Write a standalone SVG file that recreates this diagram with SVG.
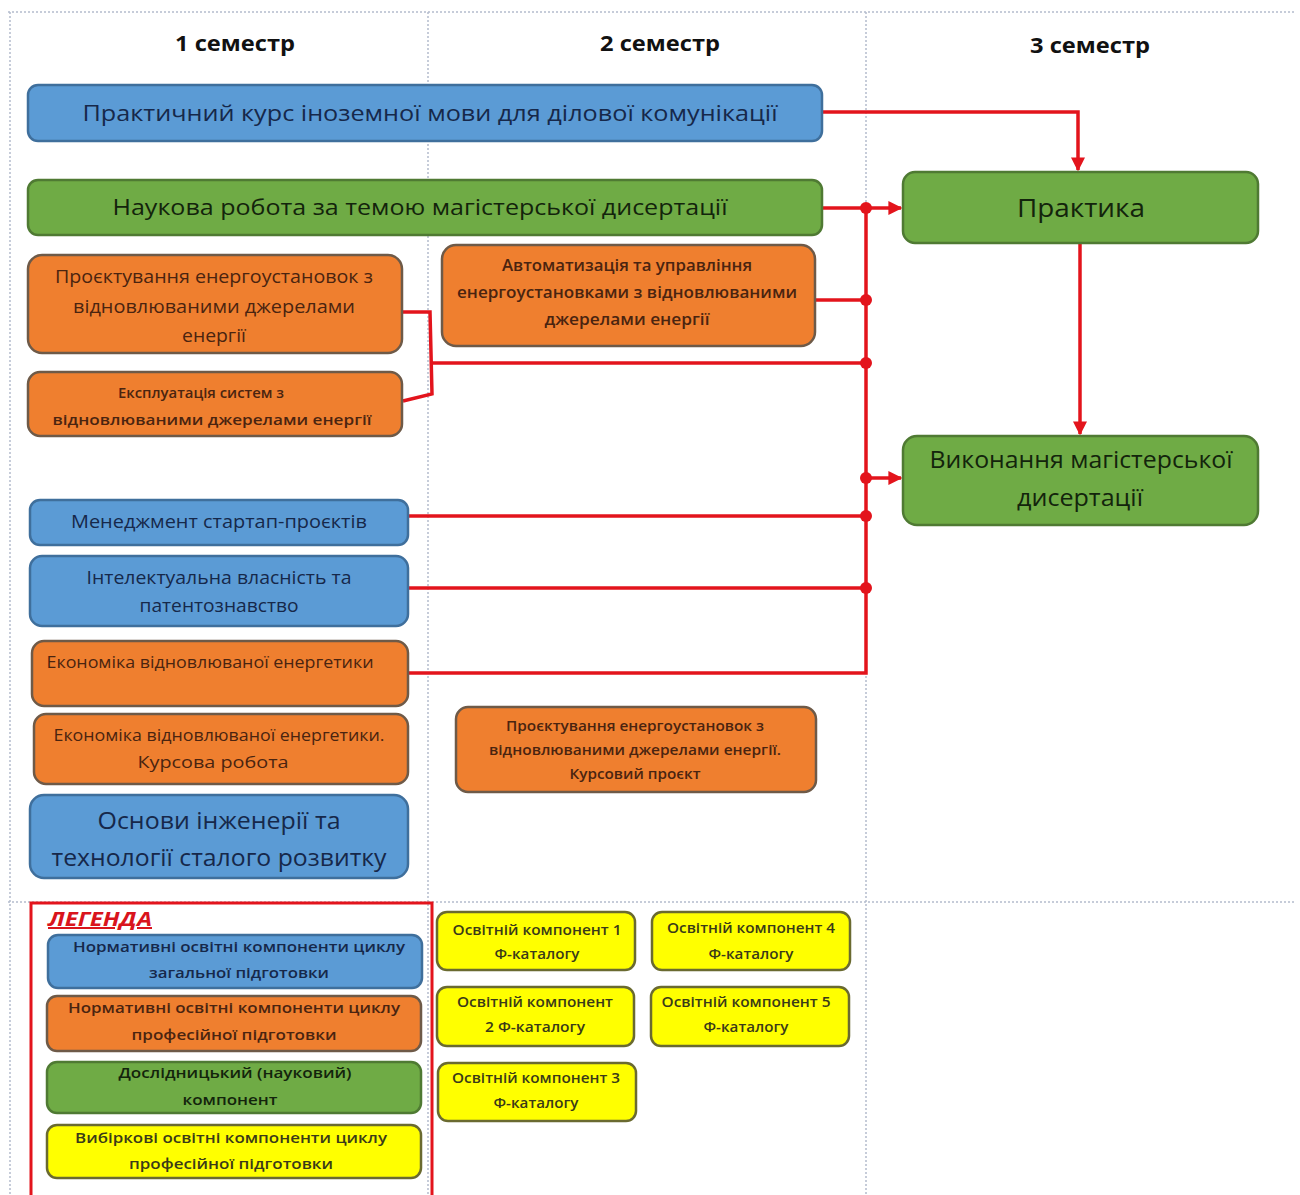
<svg xmlns="http://www.w3.org/2000/svg" width="1300" height="1195" viewBox="0 0 1300 1195">
<style>
text{font-family:"Open Sans","Liberation Sans","Noto Sans",sans-serif;text-anchor:middle}
.sb{font-weight:600}
.grid{stroke:#b4bccd;stroke-width:1.5;stroke-dasharray:2 2;fill:none}
.hdr{font-weight:bold;font-size:22px;fill:#111}
.blue{fill:#5b9bd5;stroke:#3f6f9c;stroke-width:2.5}
.orange{fill:#ef7f2f;stroke:#6e5a48;stroke-width:2.5}
.green{fill:#6fab45;stroke:#4f7a33;stroke-width:2.5}
.yellow{fill:#ffff00;stroke:#6a6a30;stroke-width:2.5}
.tb{fill:#16284a}
.to{fill:#4a2410}
.tg{fill:#13240c}
.ty{fill:#3a3a18}
.con{stroke:#e3141c;stroke-width:3.5;fill:none}
.dot{fill:#e3141c}
</style>
<defs>
<marker id="ah" viewBox="0 0 10 10" refX="9" refY="5" markerWidth="4" markerHeight="4" orient="auto" markerUnits="strokeWidth">
<path d="M0,0 L10,5 L0,10 z" fill="#e3141c"/>
</marker>
</defs>
<rect width="1300" height="1195" fill="#ffffff"/>
<g id="grid">
<line class="grid" x1="8" y1="12" x2="1295" y2="12"/>
<line class="grid" x1="10" y1="12" x2="10" y2="1195"/>
<line class="grid" x1="428" y1="12" x2="428" y2="1195"/>
<line class="grid" x1="866" y1="12" x2="866" y2="1195"/>
<line class="grid" x1="8" y1="902" x2="1295" y2="902"/>
</g>
<g id="headers">
<text class="hdr" x="235" y="51" textLength="120" lengthAdjust="spacingAndGlyphs">1 семестр</text>
<text class="hdr" x="660" y="51" textLength="120" lengthAdjust="spacingAndGlyphs">2 семестр</text>
<text class="hdr" x="1090" y="53" textLength="120" lengthAdjust="spacingAndGlyphs">3 семестр</text>
</g>
<g id="connectors">
<polyline class="con" points="822,112 1078,112 1078,170" marker-end="url(#ah)"/>
<polyline class="con" points="822,208 901,208" marker-end="url(#ah)"/>
<polyline class="con" points="866,208 866,673 408,673"/>
<line class="con" x1="815" y1="300" x2="866" y2="300"/>
<polyline class="con" points="402,312 430,312 432,394 403,401"/>
<line class="con" x1="431" y1="363" x2="866" y2="363"/>
<line class="con" x1="866" y1="478" x2="901" y2="478" marker-end="url(#ah)"/>
<line class="con" x1="408" y1="516" x2="866" y2="516"/>
<line class="con" x1="408" y1="588" x2="866" y2="588"/>
<line class="con" x1="1080" y1="243" x2="1080" y2="434" marker-end="url(#ah)"/>
<circle class="dot" cx="866" cy="208" r="6"/>
<circle class="dot" cx="866" cy="300" r="6"/>
<circle class="dot" cx="866" cy="363" r="6"/>
<circle class="dot" cx="866" cy="478" r="6"/>
<circle class="dot" cx="866" cy="516" r="6"/>
<circle class="dot" cx="866" cy="588" r="6"/>
</g>
<g id="n1">
<rect class="blue" x="28" y="85" width="794" height="56" rx="10"/>
<text class="tb" x="430" y="121" font-size="22" textLength="695" lengthAdjust="spacingAndGlyphs">Практичний курс іноземної мови для ділової комунікації</text>
</g>
<g id="n2">
<rect class="green" x="28" y="180" width="794" height="55" rx="10"/>
<text class="tg" x="420" y="215" font-size="22" textLength="615" lengthAdjust="spacingAndGlyphs">Наукова робота за темою магістерської дисертації</text>
</g>
<g id="n3">
<rect class="orange" x="28" y="255" width="374" height="98" rx="14"/>
<text class="to" font-size="17.5"><tspan x="214" y="283" textLength="318" lengthAdjust="spacingAndGlyphs">Проєктування енергоустановок з</tspan><tspan x="214" y="313" textLength="282" lengthAdjust="spacingAndGlyphs">відновлюваними джерелами</tspan><tspan x="214" y="342" textLength="64" lengthAdjust="spacingAndGlyphs">енергії</tspan></text>
</g>
<g id="n4">
<rect class="orange" x="28" y="372" width="374" height="64" rx="12"/>
<text class="to sb" font-size="15"><tspan x="201" y="398" textLength="166" lengthAdjust="spacingAndGlyphs">Експлуатація систем з</tspan><tspan x="212" y="425" textLength="319" lengthAdjust="spacingAndGlyphs">відновлюваними джерелами енергії</tspan></text>
</g>
<g id="n5">
<rect class="orange" x="442" y="245" width="373" height="101" rx="14"/>
<text class="to sb" font-size="15.5"><tspan x="627" y="271" textLength="250" lengthAdjust="spacingAndGlyphs">Автоматизація та управління</tspan><tspan x="627" y="298" textLength="340" lengthAdjust="spacingAndGlyphs">енергоустановками з відновлюваними</tspan><tspan x="627" y="325" textLength="165" lengthAdjust="spacingAndGlyphs">джерелами енергії</tspan></text>
</g>
<g id="n6">
<rect class="blue" x="30" y="500" width="378" height="45" rx="10"/>
<text class="tb" x="219" y="528" font-size="17.5" textLength="296" lengthAdjust="spacingAndGlyphs">Менеджмент стартап-проєктів</text>
</g>
<g id="n7">
<rect class="blue" x="30" y="556" width="378" height="70" rx="12"/>
<text class="tb" font-size="17.5"><tspan x="219" y="584" textLength="265" lengthAdjust="spacingAndGlyphs">Інтелектуальна власність та</tspan><tspan x="219" y="612" textLength="159" lengthAdjust="spacingAndGlyphs">патентознавство</tspan></text>
</g>
<g id="n8">
<rect class="orange" x="32" y="641" width="376" height="65" rx="12"/>
<text class="to" x="210" y="668" font-size="16.5" textLength="327" lengthAdjust="spacingAndGlyphs">Економіка відновлюваної енергетики</text>
</g>
<g id="n9">
<rect class="orange" x="34" y="714" width="374" height="70" rx="12"/>
<text class="to" font-size="16.5"><tspan x="219" y="741" textLength="331" lengthAdjust="spacingAndGlyphs">Економіка відновлюваної енергетики.</tspan><tspan x="213" y="768" textLength="151" lengthAdjust="spacingAndGlyphs">Курсова робота</tspan></text>
</g>
<g id="n10">
<rect class="blue" x="30" y="795" width="378" height="83" rx="14"/>
<text class="tb" font-size="23"><tspan x="219" y="829" textLength="243" lengthAdjust="spacingAndGlyphs">Основи інженерії та</tspan><tspan x="219" y="866" textLength="335" lengthAdjust="spacingAndGlyphs">технології сталого розвитку</tspan></text>
</g>
<g id="n11">
<rect class="orange" x="456" y="707" width="360" height="85" rx="12"/>
<text class="to sb" font-size="13.5"><tspan x="635" y="731" textLength="258" lengthAdjust="spacingAndGlyphs">Проєктування енергоустановок з</tspan><tspan x="635" y="755" textLength="292" lengthAdjust="spacingAndGlyphs">відновлюваними джерелами енергії.</tspan><tspan x="635" y="779" textLength="131" lengthAdjust="spacingAndGlyphs">Курсовий проєкт</tspan></text>
</g>
<g id="n12">
<rect class="green" x="903" y="172" width="355" height="71" rx="12"/>
<text class="tg" x="1081" y="217" font-size="26" textLength="128" lengthAdjust="spacingAndGlyphs">Практика</text>
</g>
<g id="n13">
<rect class="green" x="903" y="436" width="355" height="89" rx="14"/>
<text class="tg" font-size="23"><tspan x="1081" y="468" textLength="303" lengthAdjust="spacingAndGlyphs">Виконання магістерської</tspan><tspan x="1080" y="506" textLength="126" lengthAdjust="spacingAndGlyphs">дисертації</tspan></text>
</g>
<g id="legend">
<rect x="31" y="903" width="401" height="300" fill="none" stroke="#e3141c" stroke-width="3"/>
<text x="48" y="926" font-size="20" font-weight="bold" font-style="italic" fill="#d9141c" text-decoration="underline" style="text-anchor:start" textLength="104" lengthAdjust="spacingAndGlyphs">ЛЕГЕНДА</text>
<g id="lg1">
<rect class="blue" x="48" y="935" width="374" height="53" rx="10"/>
<text class="tb sb" font-size="15"><tspan x="239" y="952" textLength="332" lengthAdjust="spacingAndGlyphs">Нормативні освітні компоненти циклу</tspan><tspan x="239" y="978" textLength="180" lengthAdjust="spacingAndGlyphs">загальної підготовки</tspan></text>
</g>
<g id="lg2">
<rect class="orange" x="47" y="996" width="374" height="55" rx="10"/>
<text class="to sb" font-size="15"><tspan x="234" y="1013" textLength="332" lengthAdjust="spacingAndGlyphs">Нормативні освітні компоненти циклу</tspan><tspan x="234" y="1040" textLength="205" lengthAdjust="spacingAndGlyphs">професійної підготовки</tspan></text>
</g>
<g id="lg3">
<rect class="green" x="47" y="1062" width="374" height="51" rx="10"/>
<text class="tg sb" font-size="15"><tspan x="235" y="1078" textLength="233" lengthAdjust="spacingAndGlyphs">Дослідницький (науковий)</tspan><tspan x="230" y="1105" textLength="95" lengthAdjust="spacingAndGlyphs">компонент</tspan></text>
</g>
<g id="lg4">
<rect class="yellow" x="47" y="1125" width="374" height="53" rx="10"/>
<text class="ty sb" font-size="15"><tspan x="231" y="1143" textLength="312" lengthAdjust="spacingAndGlyphs">Вибіркові освітні компоненти циклу</tspan><tspan x="231" y="1169" textLength="204" lengthAdjust="spacingAndGlyphs">професійної підготовки</tspan></text>
</g>
</g>
<g id="y1">
<rect class="yellow" x="437" y="912" width="198" height="58" rx="10"/>
<text class="ty sb" font-size="14"><tspan x="537" y="935" textLength="169" lengthAdjust="spacingAndGlyphs">Освітній компонент 1</tspan><tspan x="537" y="959" textLength="85" lengthAdjust="spacingAndGlyphs">Ф-каталогу</tspan></text>
</g>
<g id="y4">
<rect class="yellow" x="652" y="912" width="198" height="58" rx="10"/>
<text class="ty sb" font-size="14"><tspan x="751" y="933" textLength="168" lengthAdjust="spacingAndGlyphs">Освітній компонент 4</tspan><tspan x="751" y="959" textLength="85" lengthAdjust="spacingAndGlyphs">Ф-каталогу</tspan></text>
</g>
<g id="y2">
<rect class="yellow" x="437" y="987" width="197" height="59" rx="10"/>
<text class="ty sb" font-size="14"><tspan x="535" y="1007" textLength="156" lengthAdjust="spacingAndGlyphs">Освітній компонент</tspan><tspan x="535" y="1032" textLength="100" lengthAdjust="spacingAndGlyphs">2 Ф-каталогу</tspan></text>
</g>
<g id="y5">
<rect class="yellow" x="651" y="987" width="198" height="59" rx="10"/>
<text class="ty sb" font-size="14"><tspan x="746" y="1007" textLength="169" lengthAdjust="spacingAndGlyphs">Освітній компонент 5</tspan><tspan x="746" y="1032" textLength="85" lengthAdjust="spacingAndGlyphs">Ф-каталогу</tspan></text>
</g>
<g id="y3">
<rect class="yellow" x="438" y="1063" width="198" height="58" rx="10"/>
<text class="ty sb" font-size="14"><tspan x="536" y="1083" textLength="168" lengthAdjust="spacingAndGlyphs">Освітній компонент 3</tspan><tspan x="536" y="1108" textLength="85" lengthAdjust="spacingAndGlyphs">Ф-каталогу</tspan></text>
</g>
</svg>
